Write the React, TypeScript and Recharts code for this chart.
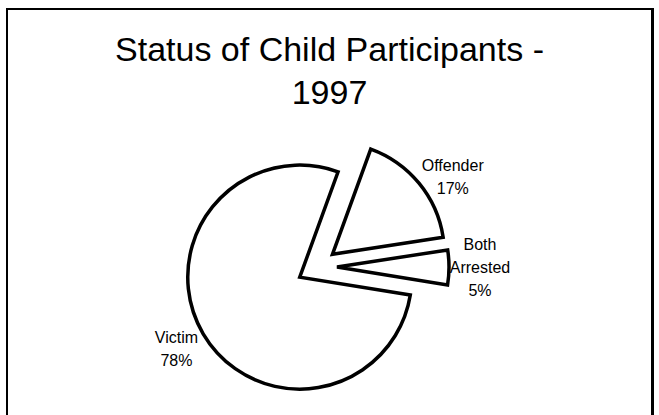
import React from "react";
import { PieChart, Pie, Cell } from "recharts";

const categories = ["Offender", "Both Arrested", "Victim"];
const shares = [17, 5, 78];
const titleLines = ["Status of Child Participants -", "1997"];

const W = 659;
const H = 415;
const CX = 312;
const CY = 262;
const R = 112;
const EXPLODE = 20;
const START = 70;
const LABEL_R = 143;
const LABEL_MIN_Y = 177;
const LINE_H = 23;
const RAD = Math.PI / 180;
const FONT = "'Liberation Sans', Arial, Helvetica, sans-serif";

const data = categories.map((name, i) => ({ name, value: shares[i] }));
const total = shares.reduce((a, b) => a + b, 0);

function midAngleOf(k: number) {
  const before = shares.slice(0, k).reduce((a, b) => a + b, 0);
  return START - (360 * (before + shares[k] / 2)) / total;
}

const makeLabel = (k: number) => (props: any) => {
  if (props.index !== k) return null;
  const m = midAngleOf(k);
  const cx = typeof props.cx === "number" ? props.cx : CX + EXPLODE * Math.cos(m * RAD);
  const cy = typeof props.cy === "number" ? props.cy : CY - EXPLODE * Math.sin(m * RAD);
  const a = m * RAD;
  let x = cx + LABEL_R * Math.cos(a);
  let y = cy - LABEL_R * Math.sin(a);
  if (y < LABEL_MIN_Y) {
    const dy = LABEL_MIN_Y - cy;
    const dx = Math.sqrt(Math.max(0, LABEL_R * LABEL_R - dy * dy)) * Math.sign(Math.cos(a));
    x = cx + dx;
    y = LABEL_MIN_Y;
  }
  const lines = [...categories[k].split(" "), `${shares[k]}%`];
  const n = lines.length;
  return (
    <text
      key={`lbl-${k}`}
      x={x}
      y={y}
      textAnchor="middle"
      fontSize={16}
      fontFamily={FONT}
      fill="#000"
    >
      {lines.map((l, j) => (
        <tspan key={j} x={x} y={y + (j - (n - 1) / 2) * LINE_H} dominantBaseline="central">
          {l}
        </tspan>
      ))}
    </text>
  );
};

export default function App() {
  return (
    <div
      style={{
        position: "absolute",
        left: 0,
        top: 0,
        width: W,
        height: H,
        overflow: "hidden",
        background: "#fff",
      }}
    >
      <div
        style={{
          position: "absolute",
          left: 6,
          top: 8,
          width: 648,
          height: 430,
          boxSizing: "border-box",
          border: "2px solid #000",
          borderRightWidth: 3,
        }}
      />
      <div
        style={{
          position: "absolute",
          left: 0,
          top: 28,
          width: W,
          textAlign: "center",
          fontFamily: FONT,
          fontSize: 34,
          lineHeight: "43px",
          color: "#000",
        }}
      >
        {titleLines.map((t, i) => (
          <div key={i}>{t}</div>
        ))}
      </div>
      <div style={{ position: "absolute", left: 0, top: 0 }}>
        <PieChart width={W} height={H}>
          {categories.map((_, k) => {
            const m = midAngleOf(k) * RAD;
            return (
              <Pie
                key={k}
                data={data}
                dataKey="value"
                nameKey="name"
                cx={CX + EXPLODE * Math.cos(m)}
                cy={CY - EXPLODE * Math.sin(m)}
                innerRadius={0}
                outerRadius={R}
                startAngle={START}
                endAngle={START - 360}
                isAnimationActive={false}
                labelLine={false}
                label={makeLabel(k)}
                strokeWidth={3.5}
                strokeLinejoin="miter"
              >
                {data.map((d, i) => (
                  <Cell
                    key={d.name}
                    fill={i === k ? "#fff" : "none"}
                    stroke={i === k ? "#000" : "none"}
                    strokeWidth={3.5}
                  />
                ))}
              </Pie>
            );
          })}
        </PieChart>
      </div>
    </div>
  );
}
